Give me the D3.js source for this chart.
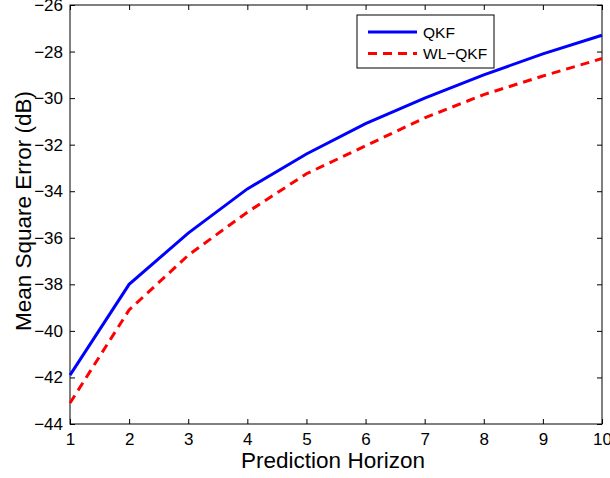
<!DOCTYPE html>
<html>
<head>
<meta charset="utf-8">
<script src="https://cdn.jsdelivr.net/npm/d3@7"></script>
<style>
  body { margin: 0; background: #fff; }
  text { font-family: "Liberation Sans", Arial, sans-serif; }
</style>
</head>
<body>
<div id="chart"></div>
<script>
// data
var horizon = [1, 2, 3, 4, 5, 6, 7, 8, 9, 10];
var qkf = [-41.9, -38.0, -35.8, -33.9, -32.4, -31.1, -30.0, -29.0, -28.1, -27.3];
var wlqkf = [-43.1, -39.1, -36.75, -34.9, -33.25, -32.05, -30.85, -29.85, -29.05, -28.3];
var xTicks = [1, 2, 3, 4, 5, 6, 7, 8, 9, 10];
var yTicks = [-44, -42, -40, -38, -36, -34, -32, -30, -28, -26];

var svgWidth = 610;
var svgHeight = 478;
var margin = { top: 5, right: 8, bottom: 54, left: 70 };
var width = svgWidth - margin.left - margin.right;
var height = svgHeight - margin.top - margin.bottom;

var svg = d3.select("#chart")
  .append("svg")
  .attr("width", svgWidth)
  .attr("height", svgHeight);

var chartGroup = svg.append("g")
  .attr("transform", `translate(${margin.left}, ${margin.top})`);

var xScale = d3.scaleLinear().domain([1, 10]).range([0, width]);
var yScale = d3.scaleLinear().domain([-44, -26]).range([height, 0]);

// axes with inward ticks, mirrored on top/right
var xAxis = d3.axisBottom(xScale).tickValues(xTicks).tickSizeInner(-5).tickSizeOuter(0).tickPadding(9);
var yAxis = d3.axisLeft(yScale).tickValues(yTicks).tickSizeInner(-5).tickSizeOuter(0).tickPadding(7);
var xTop = d3.axisTop(xScale).tickValues(xTicks).tickSizeInner(-5).tickSizeOuter(0).tickFormat("");
var yRight = d3.axisRight(yScale).tickValues(yTicks).tickSizeInner(-5).tickSizeOuter(0).tickFormat("");

function styleAxis(g) {
  g.select(".domain").remove();
  g.selectAll(".tick line").attr("stroke", "#000").attr("stroke-width", 1);
  g.selectAll(".tick text").attr("fill", "#000").style("font-size", "17px");
}

chartGroup.append("g").attr("transform", `translate(0, ${height})`).call(xAxis).call(styleAxis);
chartGroup.append("g").call(yAxis).call(styleAxis);
chartGroup.append("g").call(xTop).call(styleAxis);
chartGroup.append("g").attr("transform", `translate(${width}, 0)`).call(yRight).call(styleAxis);

chartGroup.append("rect")
  .attr("width", width)
  .attr("height", height)
  .attr("fill", "none")
  .attr("stroke", "#000")
  .attr("stroke-width", 1);

var line = d3.line()
  .x((d, i) => xScale(horizon[i]))
  .y(d => yScale(d));

chartGroup.append("path")
  .datum(qkf)
  .attr("d", line)
  .attr("fill", "none")
  .attr("stroke", "#0000ff")
  .attr("stroke-width", 3);

chartGroup.append("path")
  .datum(wlqkf)
  .attr("d", line)
  .attr("fill", "none")
  .attr("stroke", "#ff0000")
  .attr("stroke-width", 3)
  .attr("stroke-dasharray", "9,6");

// legend
var legend = svg.append("g").attr("transform", "translate(357, 15)");
legend.append("rect")
  .attr("width", 137)
  .attr("height", 53)
  .attr("fill", "#fff")
  .attr("stroke", "#000")
  .attr("stroke-width", 1);
var items = [
  { name: "QKF", color: "#0000ff", dash: null },
  { name: "WL\u2212QKF", color: "#ff0000", dash: "9,6" }
];
items.forEach(function(d, i) {
  var y = 17 + i * 21.5;
  legend.append("line")
    .attr("x1", 11).attr("x2", 60)
    .attr("y1", y).attr("y2", y)
    .attr("stroke", d.color)
    .attr("stroke-width", 3)
    .attr("stroke-dasharray", d.dash);
  legend.append("text")
    .attr("x", 66)
    .attr("y", y + 5.5)
    .style("font-size", "15.5px")
    .text(d.name);
});

// axis labels
svg.append("text")
  .attr("x", 333)
  .attr("y", 468)
  .attr("text-anchor", "middle")
  .style("font-size", "22.5px")
  .text("Prediction Horizon");

svg.append("text")
  .attr("transform", `translate(31, 211) rotate(-90)`)
  .attr("text-anchor", "middle")
  .style("font-size", "22.5px")
  .text("Mean Square Error (dB)");
</script>
</body>
</html>
